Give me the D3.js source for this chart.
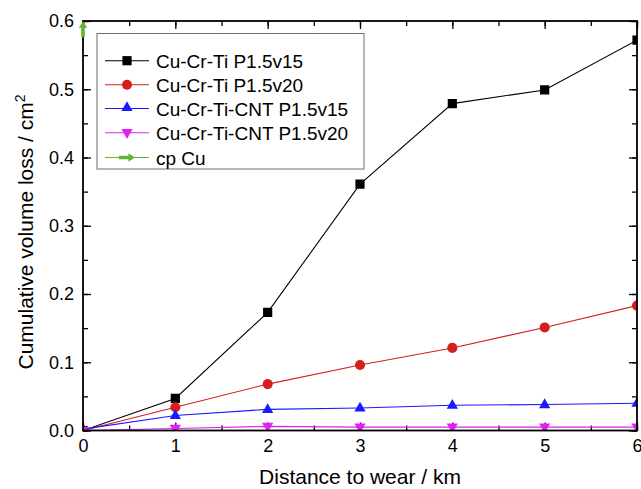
<!DOCTYPE html>
<html>
<head>
<meta charset="utf-8">
<script src="https://cdn.jsdelivr.net/npm/d3@7"></script>
<style>
  html, body { margin: 0; padding: 0; background: #fff; }
  svg { display: block; font-family: "Liberation Sans", Arial, sans-serif; }
</style>
</head>
<body>
<svg id="chart" width="641" height="489"></svg>
<script>
// Sliding distance (km)
const distance = [0, 1, 2, 3, 4, 5, 6];

// Cumulative volume loss (cm^2) per sample
const cuCrTiV15    = [0.000, 0.047, 0.173, 0.361, 0.479, 0.499, 0.572];
const cuCrTiV20    = [0.000, 0.034, 0.068, 0.096, 0.121, 0.151, 0.183];
const cuCrTiCntV15 = [0.002, 0.022, 0.031, 0.033, 0.037, 0.038, 0.040];
const cuCrTiCntV20 = [0.000, 0.003, 0.006, 0.005, 0.005, 0.005, 0.005];
// Pure copper: off the top of the scale, shown only as an arrow at 0 km
const cpCuDistance = [0];
const cpCu         = [0.588];

const seriesNames = [
  "Cu-Cr-Ti P1.5v15",
  "Cu-Cr-Ti P1.5v20",
  "Cu-Cr-Ti-CNT P1.5v15",
  "Cu-Cr-Ti-CNT P1.5v20",
  "cp Cu"
];

const xTicks = [0, 1, 2, 3, 4, 5, 6];
const yTicks = [0, 0.1, 0.2, 0.3, 0.4, 0.5, 0.6];

const series = [
  { name: seriesNames[0], xs: distance, ys: cuCrTiV15,    color: "#000000", shape: "square" },
  { name: seriesNames[1], xs: distance, ys: cuCrTiV20,    color: "#d41f1f", shape: "circle" },
  { name: seriesNames[2], xs: distance, ys: cuCrTiCntV15, color: "#1a1aff", shape: "up" },
  { name: seriesNames[3], xs: distance, ys: cuCrTiCntV20, color: "#e21ff5", shape: "down" },
  { name: seriesNames[4], xs: cpCuDistance, ys: cpCu,     color: "#5db533", shape: "arrow" }
];

const svg = d3.select("#chart");
const L = 83, R = 637, T = 21, B = 430.5;

const x = d3.scaleLinear().domain([0, 6]).range([L, R]);
const y = d3.scaleLinear().domain([0, 0.6]).range([B, T]);

// Marker path generator, centred on 0,0
function markerPath(shape) {
  switch (shape) {
    case "square": return "M-4.6,-4.6H4.6V4.6H-4.6Z";
    case "circle": return d3.symbol(d3.symbolCircle, 80)();
    case "up":     return "M0,-6.2L5.6,3.6L-5.6,3.6Z";
    case "down":   return "M0,6.2L5.6,-3.6L-5.6,-3.6Z";
    case "arrow":  return "M0,-8L4.2,-1.5L1.8,-1.5L1.8,8L-1.8,8L-1.8,-1.5L-4.2,-1.5Z";
  }
}

// Clip for plot content
svg.append("defs").append("clipPath").attr("id", "plotClip")
  .append("rect").attr("x", L).attr("y", T).attr("width", R - L).attr("height", B - T);

// Axes: ticks pointing inward on all four sides
const fmtY = d3.format(".1f");
const minorX = d3.range(0, 6.01, 0.5);
const minorY = d3.range(0, 0.601, 0.05);

function styleAxis(g) {
  g.select(".domain").remove();
  g.selectAll("line").attr("stroke", "#000").attr("stroke-width", 1.3);
  g.selectAll("text").attr("fill", "#000").attr("font-size", 18)
    .attr("font-family", "'Liberation Sans', Arial, sans-serif");
}

const axes = svg.append("g");
axes.append("g").attr("transform", `translate(0,${B})`)
  .call(d3.axisBottom(x).tickValues(minorX).tickSize(-5).tickFormat("")).call(styleAxis);
axes.append("g").attr("transform", `translate(0,${B})`)
  .call(d3.axisBottom(x).tickValues(xTicks).tickSize(-8).tickPadding(9).tickFormat(d3.format("d"))).call(styleAxis);
axes.append("g").attr("transform", `translate(0,${T})`)
  .call(d3.axisTop(x).tickValues(minorX).tickSize(-5).tickFormat("")).call(styleAxis);
axes.append("g").attr("transform", `translate(0,${T})`)
  .call(d3.axisTop(x).tickValues(xTicks).tickSize(-8).tickFormat("")).call(styleAxis);
axes.append("g").attr("transform", `translate(${L},0)`)
  .call(d3.axisLeft(y).tickValues(minorY).tickSize(-5).tickFormat("")).call(styleAxis);
axes.append("g").attr("transform", `translate(${L},0)`)
  .call(d3.axisLeft(y).tickValues(yTicks).tickSize(-8).tickPadding(9).tickFormat(fmtY)).call(styleAxis);
axes.append("g").attr("transform", `translate(${R},0)`)
  .call(d3.axisRight(y).tickValues(minorY).tickSize(-5).tickFormat("")).call(styleAxis);
axes.append("g").attr("transform", `translate(${R},0)`)
  .call(d3.axisRight(y).tickValues(yTicks).tickSize(-8).tickFormat("")).call(styleAxis);

// Data lines and markers
const plot = svg.append("g").attr("clip-path", "url(#plotClip)");
const line = d3.line().x(d => x(d[0])).y(d => y(d[1]));

series.slice(0, 4).forEach(s => {
  const pts = s.xs.map((v, i) => [v, s.ys[i]]);
  plot.append("path").datum(pts).attr("d", line)
    .attr("fill", "none").attr("stroke", s.color).attr("stroke-width", 1.1);
});
series.slice(0, 4).forEach(s => {
  const pts = s.xs.map((v, i) => [v, s.ys[i]]);
  plot.selectAll(null).data(pts).enter().append("path")
    .attr("d", markerPath(s.shape))
    .attr("transform", d => `translate(${x(d[0])},${y(d[1])})`)
    .attr("fill", s.color);
});

// Frame
svg.append("rect").attr("x", L).attr("y", T).attr("width", R - L).attr("height", B - T)
  .attr("fill", "none").attr("stroke", "#000").attr("stroke-width", 1.8);

// Off-scale pure copper marker drawn on top of the frame
const cp = series[4];
svg.selectAll(null).data(cp.xs.map((v, i) => [v, cp.ys[i]])).enter().append("path")
  .attr("d", markerPath("arrow"))
  .attr("transform", d => `translate(${x(d[0])},${y(d[1])})`)
  .attr("fill", cp.color);

// Legend
const lg = svg.append("g");
lg.append("rect").attr("x", 97).attr("y", 33.5).attr("width", 267).attr("height", 135.5)
  .attr("fill", "#fff").attr("stroke", "#6e6e6e").attr("stroke-width", 1);
const rowY = [60.7, 84.8, 108.5, 132.7, 157.5];
series.forEach((s, i) => {
  const g = lg.append("g").attr("transform", `translate(0,${rowY[i]})`);
  g.append("line").attr("x1", 105).attr("x2", 149).attr("y1", 0).attr("y2", 0)
    .attr("stroke", s.color).attr("stroke-width", 1.1);
  g.append("path").attr("d", markerPath(s.shape))
    .attr("transform", s.shape === "arrow" ? "translate(127,0) rotate(90)" :
          s.shape === "up" ? "translate(127,-1)" : "translate(127,0)")
    .attr("fill", s.color);
  g.append("text").attr("x", 156).attr("y", 7).attr("font-size", 19).attr("fill", "#000")
    .text(s.name);
});

// Axis titles
svg.append("text").attr("x", 360).attr("y", 484).attr("text-anchor", "middle")
  .attr("font-size", 21).attr("fill", "#000").text("Distance to wear / km");

const yt = svg.append("text").attr("transform", "translate(33,232) rotate(-90)")
  .attr("text-anchor", "middle").attr("font-size", 21).attr("fill", "#000");
yt.append("tspan").text("Cumulative volume loss / cm");
yt.append("tspan").attr("dy", -8).attr("font-size", 14).text("2");
</script>
</body>
</html>
